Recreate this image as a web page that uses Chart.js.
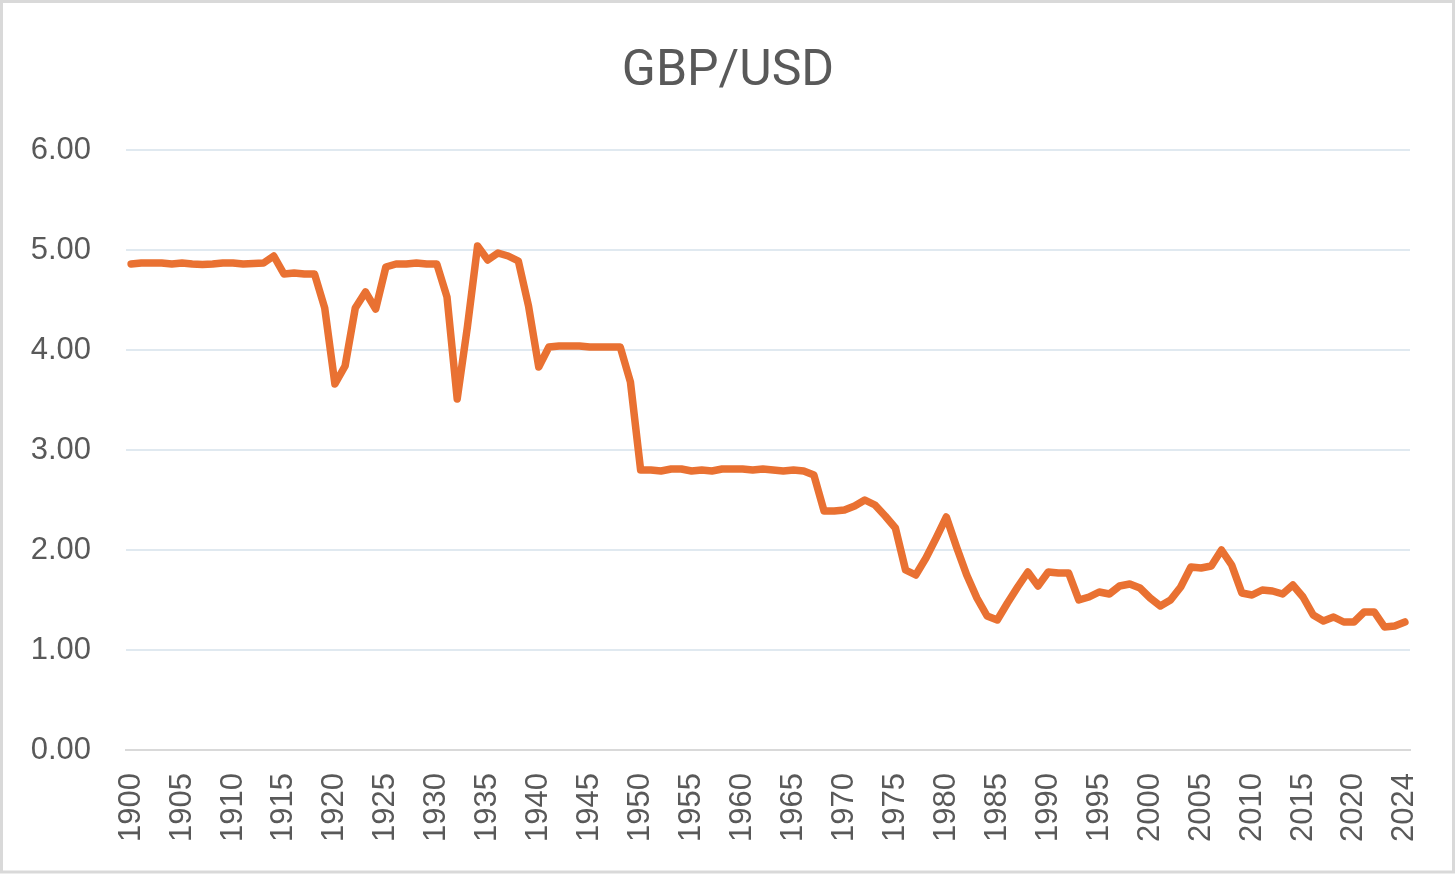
<!DOCTYPE html>
<html>
<head>
<meta charset="utf-8">
<title>GBP/USD</title>
<script src="https://cdn.jsdelivr.net/npm/chart.js@4.4.1/dist/chart.umd.min.js"></script>
<style>
  html, body { margin: 0; padding: 0; background: #fff; }
  #wrap { width: 1456px; height: 875px; }
</style>
</head>
<body>
<div id="wrap"><canvas id="fx" width="1456" height="875"></canvas></div>
<script>
// GBP/USD annual rate, 1900 - 2024 (2021 row appears twice in the source sheet)
const years = [
  '1900','1901','1902','1903','1904','1905','1906','1907','1908','1909',
  '1910','1911','1912','1913','1914','1915','1916','1917','1918','1919',
  '1920','1921','1922','1923','1924','1925','1926','1927','1928','1929',
  '1930','1931','1932','1933','1934','1935','1936','1937','1938','1939',
  '1940','1941','1942','1943','1944','1945','1946','1947','1948','1949',
  '1950','1951','1952','1953','1954','1955','1956','1957','1958','1959',
  '1960','1961','1962','1963','1964','1965','1966','1967','1968','1969',
  '1970','1971','1972','1973','1974','1975','1976','1977','1978','1979',
  '1980','1981','1982','1983','1984','1985','1986','1987','1988','1989',
  '1990','1991','1992','1993','1994','1995','1996','1997','1998','1999',
  '2000','2001','2002','2003','2004','2005','2006','2007','2008','2009',
  '2010','2011','2012','2013','2014','2015','2016','2017','2018','2019',
  '2020','2021','2021','2022','2023','2024'
];

const rates = [
  4.86, 4.87, 4.87, 4.87, 4.86, 4.87, 4.86, 4.855, 4.86, 4.87,
  4.87, 4.86, 4.865, 4.87, 4.94, 4.76, 4.77, 4.76, 4.76, 4.42,
  3.66, 3.84, 4.42, 4.58, 4.41, 4.83, 4.86, 4.86, 4.87, 4.86,
  4.86, 4.53, 3.51, 4.23, 5.04, 4.90, 4.97, 4.94, 4.89, 4.44,
  3.83, 4.03, 4.04, 4.04, 4.04, 4.03, 4.03, 4.03, 4.03, 3.68,
  2.80, 2.80, 2.79, 2.81, 2.81, 2.79, 2.80, 2.79, 2.81, 2.81,
  2.81, 2.80, 2.81, 2.80, 2.79, 2.80, 2.79, 2.75, 2.39, 2.39,
  2.40, 2.44, 2.50, 2.45, 2.34, 2.22, 1.80, 1.75, 1.92, 2.12,
  2.33, 2.03, 1.75, 1.52, 1.34, 1.30, 1.47, 1.63, 1.78, 1.64,
  1.78, 1.77, 1.77, 1.50, 1.53, 1.58, 1.56, 1.64, 1.66, 1.62,
  1.52, 1.44, 1.50, 1.63, 1.83, 1.82, 1.84, 2.00, 1.85, 1.57,
  1.55, 1.60, 1.59, 1.56, 1.65, 1.53, 1.35, 1.29, 1.33, 1.28,
  1.28, 1.38, 1.38, 1.23, 1.24, 1.28
];

const yTicks = [0, 1, 2, 3, 4, 5, 6];

const textGrey = '#595959';

// white page + thin grey frame like the exported picture
const frame = {
  id: 'frame',
  beforeDraw(chart) {
    const c = chart.ctx;
    c.save();
    c.fillStyle = '#fff';
    c.fillRect(0, 0, chart.width, chart.height);
    c.strokeStyle = '#d9d9d9';
    c.lineWidth = 3;
    c.strokeRect(1.5, 1.5, chart.width - 4, chart.height - 4.5);
    c.restore();
  }
};

new Chart(document.getElementById('fx'), {
  type: 'line',
  data: {
    labels: years,
    datasets: [{
      label: 'GBP/USD',
      data: rates,
      borderColor: '#E97132',
      backgroundColor: '#E97132',
      borderWidth: 7.5,
      borderJoinStyle: 'round',
      borderCapStyle: 'round',
      pointRadius: 0,
      tension: 0
    }]
  },
  options: {
    responsive: false,
    animation: false,
    devicePixelRatio: 1,
    // equal side padding keeps the title centred on the page
    layout: { padding: { top: 10, left: 29, right: 29, bottom: 30 } },
    plugins: {
      legend: { display: false },
      tooltip: { enabled: false },
      title: {
        display: true,
        text: 'GBP/USD',
        color: textGrey,
        font: { family: 'Roboto', size: 50, weight: 'normal' },
        padding: { top: 32, bottom: 48 }
      }
    },
    scales: {
      x: {
        type: 'category',
        offset: true,
        grid: { display: false, drawTicks: false },
        border: { display: true, color: '#d9d9d9', width: 2 },
        afterFit(scale) {
          scale.height = 95;
          scale.paddingLeft = 0;
          scale.paddingRight = 46; // plot area stops at x = 1410
        },
        ticks: {
          autoSkip: false,
          minRotation: 90,
          maxRotation: 90,
          padding: 23,
          color: textGrey,
          font: { family: 'Liberation Sans', size: 31 },
          callback(value, index) {
            const last = years.length - 1;
            return (index % 5 === 0 || index === last) ? years[index] : null;
          }
        }
      },
      y: {
        min: yTicks[0],
        max: yTicks[yTicks.length - 1],
        afterFit(scale) { scale.width = 97; },
        afterBuildTicks(scale) { scale.ticks = yTicks.map(v => ({ value: v })); },
        grid: {
          drawTicks: false,
          lineWidth: 2,
          color: ctx => (ctx.tick && ctx.tick.value === 0) ? 'rgba(0,0,0,0)' : '#e0e9f0'
        },
        border: { display: false },
        ticks: {
          padding: 35,
          color: textGrey,
          font: { family: 'Liberation Sans', size: 31 },
          callback: v => Number(v).toFixed(2)
        }
      }
    }
  },
  plugins: [frame]
});
</script>
</body>
</html>
